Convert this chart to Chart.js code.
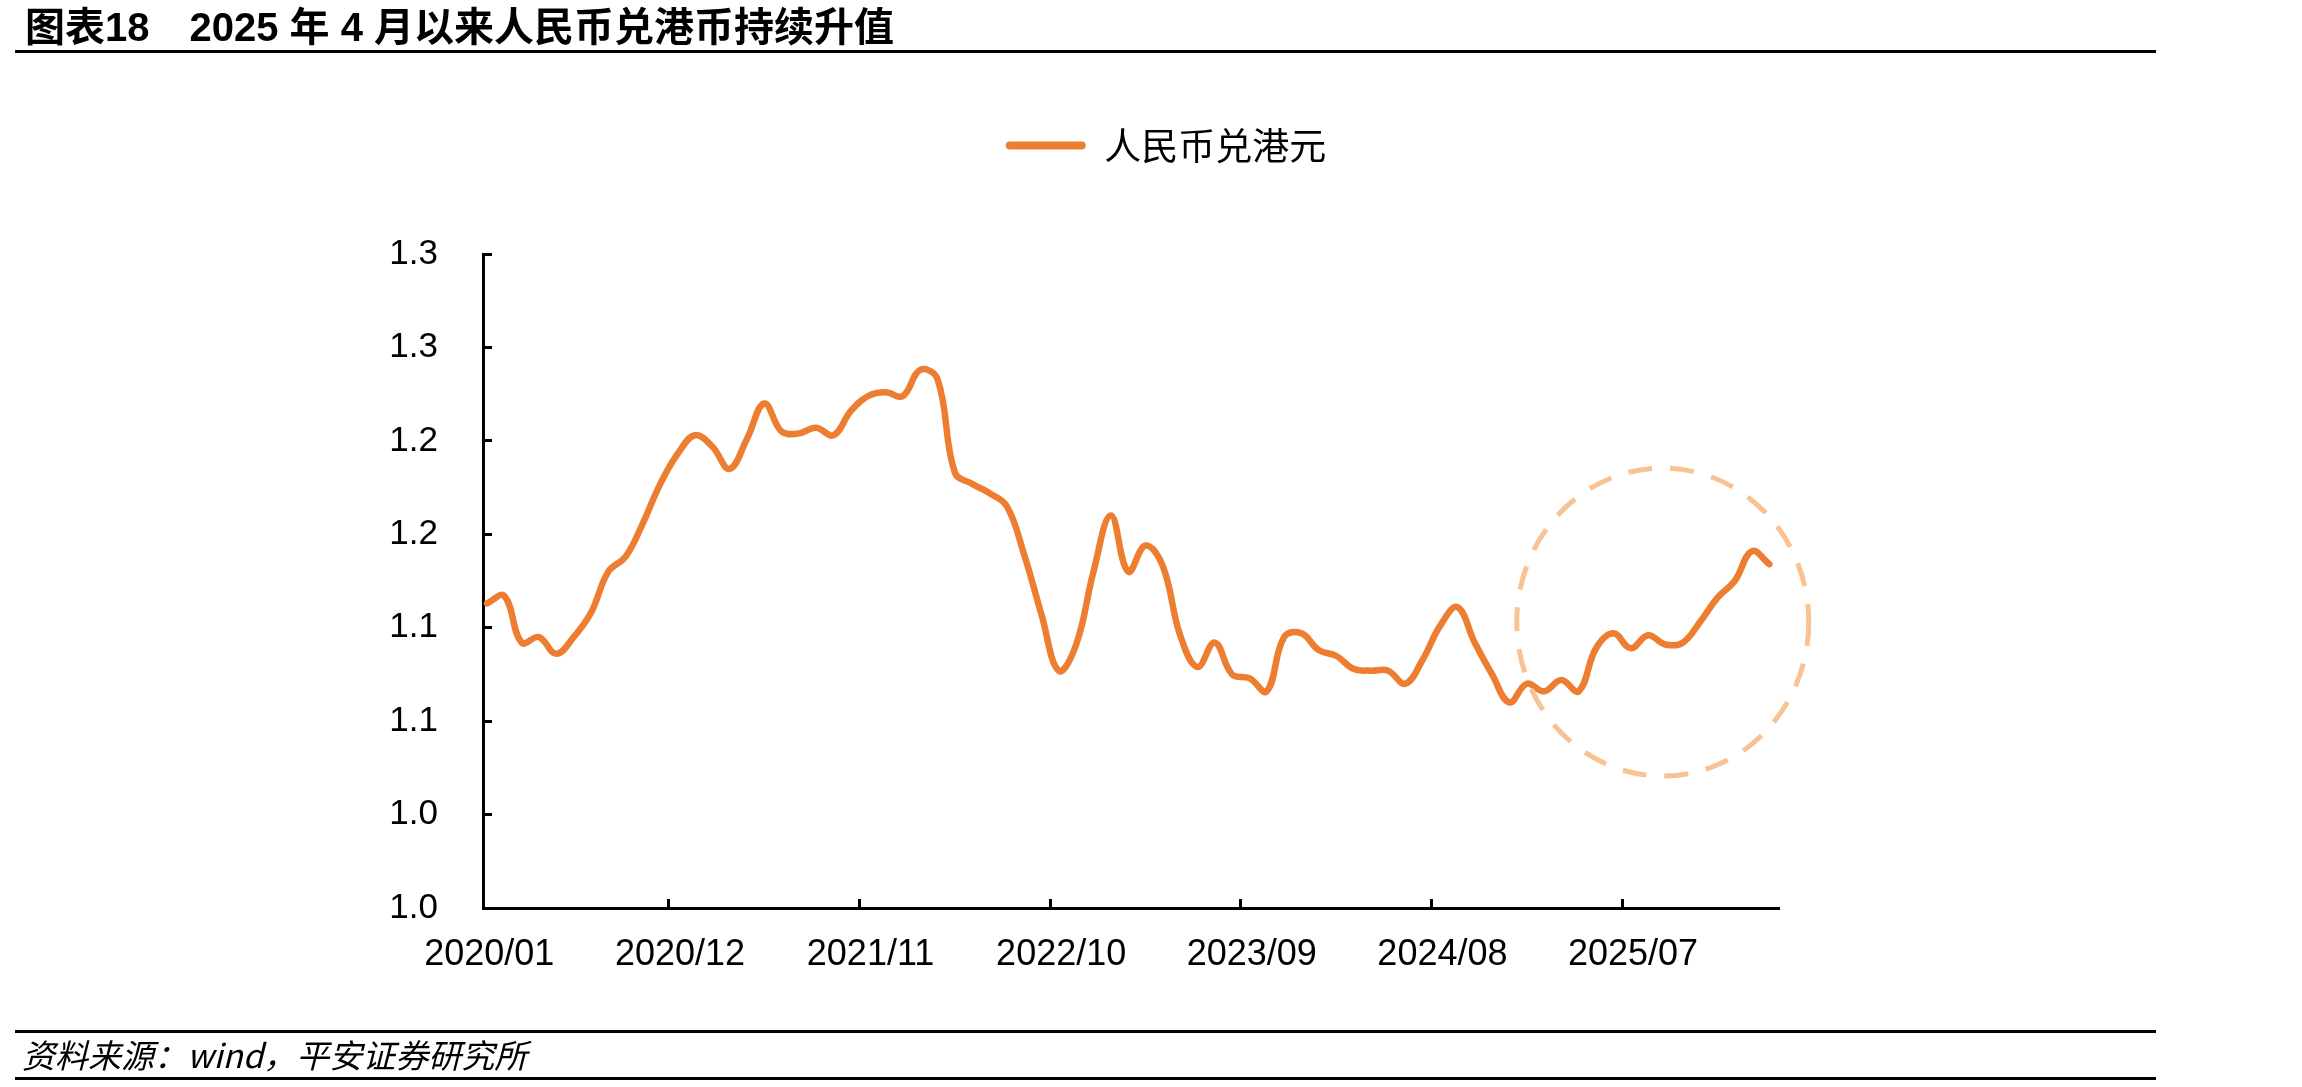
<!DOCTYPE html>
<html>
<head>
<meta charset="utf-8">
<script src="https://cdn.jsdelivr.net/npm/chart.js@4.4.1/dist/chart.umd.min.js"></script>
<style>
  html, body { margin: 0; padding: 0; background: #fff; }
  #page { position: relative; width: 2302px; height: 1087px; overflow: hidden; }
  #chart { position: absolute; left: 0; top: 0; }
  .title { position: absolute; left: 25px; top: 5px; font: bold 40px "Liberation Sans", "Noto Sans CJK SC", sans-serif; line-height: 44px; white-space: pre; color: #000; }
  .rule { position: absolute; left: 15px; width: 2141px; height: 3px; background: #000; }
  .source { position: absolute; left: 22px; top: 1034px; font: italic 33px "Noto Sans CJK SC", sans-serif; line-height: 40px; white-space: pre; color: #000; }
</style>
</head>
<body>
<div id="page">
  <canvas id="chart" width="2302" height="1087"></canvas>
  <div class="title">图表18　2025 年 4 月以来人民币兑港币持续升值</div>
  <div class="rule" style="top:50px"></div>
  <div class="rule" style="top:1030px"></div>
  <div class="source">资料来源：wind，平安证券研究所</div>
  <div class="rule" style="top:1077px"></div>
</div>
<script>
// monthly labels 2020/01 .. 2026/03
const months = [];
for (let y = 2020; y <= 2026; y++) {
  for (let m = 1; m <= 12; m++) months.push(y + "/" + String(m).padStart(2, "0"));
}
months.length = 75;

// 人民币兑港元, monthly
const cnyHkd = [
  1.113, 1.117, 1.092, 1.095, 1.086, 1.095, 1.108, 1.130, 1.138, 1.156,
  1.177, 1.193, 1.203, 1.197, 1.185, 1.201, 1.220, 1.205, 1.204, 1.207,
  1.203, 1.216, 1.224, 1.226, 1.224, 1.238, 1.233, 1.183, 1.177, 1.172,
  1.165, 1.139, 1.107, 1.077, 1.091, 1.130, 1.160, 1.130, 1.144, 1.133,
  1.096, 1.079, 1.092, 1.075, 1.073, 1.066, 1.095, 1.097, 1.088, 1.085,
  1.078, 1.077, 1.077, 1.070, 1.083, 1.101, 1.111, 1.092, 1.075, 1.060,
  1.070, 1.066, 1.072, 1.066, 1.089, 1.097, 1.089, 1.096, 1.091, 1.092,
  1.103, 1.116, 1.125, 1.141, 1.134
];

const xTickIdx = [0, 11, 22, 33, 44, 55, 66];
const xTickLabels = ["2020/01", "2020/12", "2021/11", "2022/10", "2023/09", "2024/08", "2025/07"];
const yTickVals = [0.95, 1.00, 1.05, 1.10, 1.15, 1.20, 1.25, 1.30];
const yTickLabels = ["1.0", "1.0", "1.1", "1.1", "1.2", "1.2", "1.3", "1.3"];

// dashed ring around the recent rebound (center in axis units, radii in px)
const ringCenter = [68.35, 1.103];
const ringRadius = [146, 154];

Chart.defaults.font.family = '"Liberation Sans", "Noto Sans CJK SC", sans-serif';
Chart.defaults.color = "#000";

// keep the legend up near the top, leaving the gap above the plot
const legendTop = {
  id: "legendTop",
  afterLayout(chart) {
    const lg = chart.legend;
    const h = lg.bottom - lg.top;
    lg.top = 117;
    lg.bottom = 117 + h;
    lg.left += 15;
    lg.right += 15;
  }
};

const ring = {
  id: "ring",
  afterDatasetsDraw(chart) {
    const { ctx, scales: { x, y } } = chart;
    ctx.save();
    ctx.beginPath();
    ctx.ellipse(x.getPixelForValue(ringCenter[0]), y.getPixelForValue(ringCenter[1]),
      ringRadius[0], ringRadius[1], 0, 0, Math.PI * 2);
    ctx.setLineDash([24, 18]);
    ctx.lineWidth = 5;
    ctx.strokeStyle = "#F9C292";
    ctx.stroke();
    ctx.restore();
  }
};

new Chart(document.getElementById("chart"), {
  type: "line",
  data: {
    datasets: [{
      label: "人民币兑港元",
      data: cnyHkd.map((v, i) => ({ x: i + 0.5, y: v })), // plotted mid-month
      borderColor: "#ED7D31",
      backgroundColor: "#ED7D31",
      borderWidth: 6.5,
      pointRadius: 0,
      tension: 0.4,
      borderCapStyle: "round",
      borderJoinStyle: "round",
      fill: false
    }]
  },
  options: {
    responsive: false,
    animation: false,
    layout: { padding: { top: 197, left: 0, right: 0, bottom: 0 } },
    plugins: {
      legend: {
        position: "top",
        labels: {
          boxWidth: 80,
          boxHeight: 8,
          useBorderRadius: true,
          borderRadius: 4,
          padding: 10,
          color: "#000",
          font: { size: 37, family: '"Noto Sans CJK SC", sans-serif' },
          generateLabels: (chart) =>
            Chart.defaults.plugins.legend.labels.generateLabels(chart).map((l) => ({ ...l, lineWidth: 0 }))
        }
      },
      tooltip: { enabled: false }
    },
    scales: {
      x: {
        type: "linear",
        min: 0.27,
        max: 75,
        afterBuildTicks: (s) => { s.ticks = xTickIdx.map((v) => ({ value: v })); },
        afterFit: (s) => { s.height = 179; },
        ticks: {
          autoSkip: false,
          maxRotation: 0,
          padding: 34,
          labelOffset: 11,
          color: "#000",
          font: { size: 36 },
          callback: (v, i) => xTickLabels[i]
        },
        grid: {
          drawOnChartArea: false,
          tickLength: -9,
          lineWidth: 3,
          color: (c) => (c.tick && c.tick.value === 0 ? "rgba(0,0,0,0)" : "#000")
        },
        border: { color: "#000", width: 3 }
      },
      y: {
        min: 0.95,
        max: 1.30,
        afterBuildTicks: (s) => { s.ticks = yTickVals.map((v) => ({ value: v })); },
        afterFit: (s) => { s.width = 483; },
        ticks: {
          padding: 54,
          color: "#000",
          font: { size: 35 },
          callback: (v, i) => yTickLabels[i]
        },
        grid: { drawOnChartArea: false, tickLength: -9, lineWidth: 3, color: "#000" },
        border: { color: "#000", width: 3 }
      },
      yR: {
        type: "linear",
        position: "right",
        afterFit: (s) => { s.width = 524; },
        ticks: { display: false },
        grid: { display: false },
        border: { display: false }
      }
    }
  },
  plugins: [legendTop, ring]
});
</script>
</body>
</html>
